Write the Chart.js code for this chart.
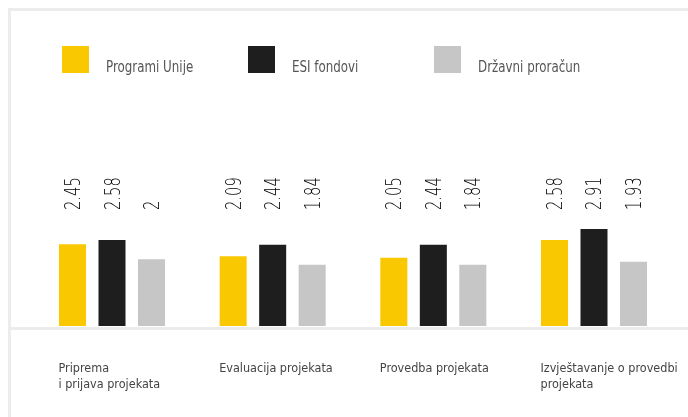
<!DOCTYPE html>
<html>
<head>
<meta charset="utf-8">
<script src="https://cdn.jsdelivr.net/npm/chart.js@4"></script>
<style>
  html, body { margin: 0; padding: 0; background: #ffffff; }
  #wrap { position: relative; width: 688px; height: 417px; }
</style>
</head>
<body>
<div id="wrap"><canvas id="chart" width="688" height="417"></canvas></div>
<script>
// categories and series
const categories = [
    ["Priprema", "i prijava projekata"],
    "Evaluacija projekata",
    "Provedba projekata",
    ["Izvještavanje o provedbi", "projekata"]
];
const seriesNames = ["Programi Unije", "ESI fondovi", "Državni proračun"];
const programiUnije = [2.45, 2.09, 2.05, 2.58];
const esiFondovi = [2.58, 2.44, 2.44, 2.91];
const drzavniProracun = [2, 1.84, 1.84, 1.93];
const seriesColors = ["#f9c800", "#1e1e1e", "#c6c6c6"];

const FONT = '"DejaVu Sans Condensed", "DejaVu Sans", sans-serif';

// frame lines, legend and the rotated value labels
const decorPlugin = {
    id: "decor",
    beforeDraw(chart) {
        const ctx = chart.ctx;
        ctx.save();
        ctx.fillStyle = "#ececec";
        ctx.fillRect(8, 8, 680, 3);   // top line
        ctx.fillRect(8, 8, 3, 409);   // left line
        ctx.fillRect(11, 327, 677, 3); // baseline
        ctx.restore();
    },
    afterDraw(chart) {
        const ctx = chart.ctx;
        ctx.save();
        // legend
        chart.data.datasets.forEach((ds, i) => {
            const x = 62 + i * 186;
            ctx.fillStyle = ds.backgroundColor;
            ctx.fillRect(x, 46, 27, 27);
            ctx.save();
            ctx.fillStyle = "#555555";
            ctx.font = "15px " + FONT;
            ctx.textAlign = "left";
            ctx.textBaseline = "alphabetic";
            ctx.translate(x + 44, 72);
            ctx.scale(0.88, 1); // the original font is narrower
            ctx.fillText(ds.label, 0, 0);
            ctx.restore();
        });
        // values above the bars, thin and tall
        ctx.font = '200 21px "DejaVu Sans", sans-serif';
        ctx.fillStyle = "#000000";
        chart.data.datasets.forEach((ds, i) => {
            const meta = chart.getDatasetMeta(i);
            meta.data.forEach((bar, j) => {
                ctx.save();
                ctx.translate(bar.x + 7.5, 210);
                ctx.rotate(-Math.PI / 2);
                ctx.scale(0.7, 1);
                ctx.textAlign = "left";
                ctx.textBaseline = "alphabetic";
                ctx.fillText(String(ds.data[j]), 0, 0);
                ctx.restore();
            });
        });
        ctx.restore();
    }
};

const chart_canvas = document.getElementById("chart");

let barChart = new Chart(chart_canvas, {
    type: "bar",
    data: {
        labels: categories,
        datasets: [
            { label: seriesNames[0], data: programiUnije, backgroundColor: seriesColors[0] },
            { label: seriesNames[1], data: esiFondovi, backgroundColor: seriesColors[1] },
            { label: seriesNames[2], data: drzavniProracun, backgroundColor: seriesColors[2] }
        ]
    },
    options: {
        responsive: false,
        animation: false,
        layout: {
            padding: { left: 31.67, right: 13.67, top: 26, bottom: 0 }
        },
        datasets: {
            bar: {
                categoryPercentage: 0.7376,
                barPercentage: 0.684
            }
        },
        plugins: {
            legend: { display: false },
            tooltip: { enabled: false }
        },
        scales: {
            x: {
                grid: { display: false, drawTicks: false },
                border: { display: false },
                ticks: {
                    align: "start",
                    labelOffset: -53.5,
                    padding: 35,
                    minRotation: 0,
                    maxRotation: 0,
                    autoSkip: false,
                    color: "#444444",
                    font: { family: FONT, size: 12.5, lineHeight: "16px" }
                },
                afterFit(scale) {
                    scale.height = 91;
                    scale.paddingLeft = 0;
                    scale.paddingRight = 0;
                }
            },
            y: {
                display: false,
                min: 0,
                max: 9
            }
        }
    },
    plugins: [decorPlugin]
});
</script>
</body>
</html>
